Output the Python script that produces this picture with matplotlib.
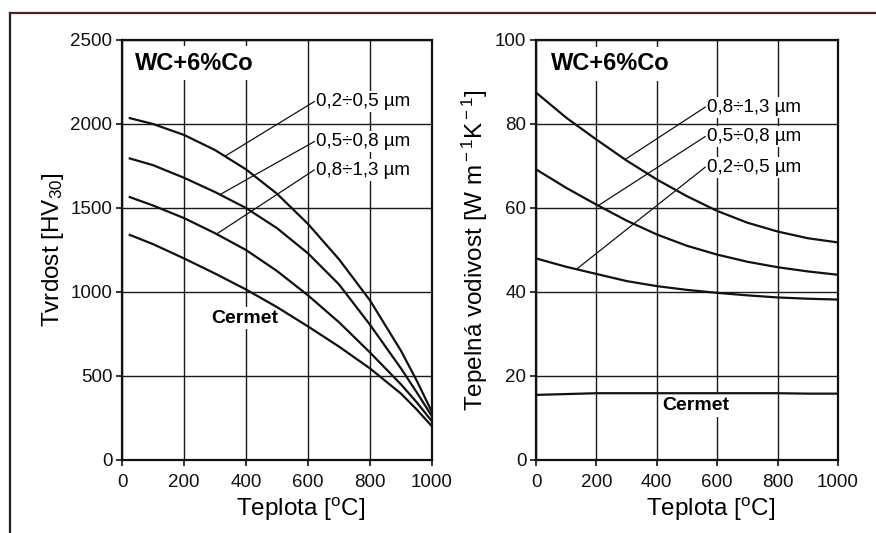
import numpy as np
import matplotlib
matplotlib.use("Agg")
import matplotlib.pyplot as plt
from matplotlib.lines import Line2D

plt.rcParams["font.family"] = ["Liberation Sans", "DejaVu Sans"]
plt.rcParams["mathtext.fontset"] = "custom"
plt.rcParams["mathtext.rm"] = "Liberation Sans"
plt.rcParams["mathtext.it"] = "Liberation Sans:italic"

# --- hardness, WC+6%Co (left) ---
hv_temp = [25, 100, 200, 300, 400, 500, 600, 700, 800, 900, 950, 1000]
hv_02_05 = [2035, 2000, 1935, 1845, 1730, 1585, 1405, 1195, 950, 650, 475, 285]
hv_05_08 = [1795, 1755, 1680, 1595, 1500, 1380, 1230, 1045, 805, 545, 405, 260]
hv_08_13 = [1565, 1515, 1440, 1350, 1250, 1125, 980, 820, 640, 450, 345, 230]
hv_cermet = [1340, 1285, 1200, 1110, 1015, 910, 795, 675, 545, 395, 302, 200]

# --- thermal conductivity, WC+6%Co (right) ---
tc_temp = [0, 100, 200, 300, 400, 500, 600, 700, 800, 900, 1000]
tc_08_13 = [87.5, 81.5, 76.3, 71.3, 66.8, 62.8, 59.3, 56.5, 54.4, 52.8, 51.8]
tc_05_08 = [69.2, 64.8, 60.8, 57.0, 53.7, 51.0, 48.9, 47.2, 45.9, 44.9, 44.1]
tc_02_05 = [48.0, 46.0, 44.3, 42.6, 41.4, 40.5, 39.8, 39.2, 38.7, 38.4, 38.2]
tc_cermet = [15.5, 15.7, 15.9, 15.9, 15.9, 15.9, 15.9, 15.9, 15.9, 15.8, 15.8]

grain_labels = ["0,2÷0,5 µm", "0,5÷0,8 µm", "0,8÷1,3 µm"]

fig = plt.figure(figsize=(8.76, 5.33), dpi=100)

# scan frame
fig.add_artist(Line2D([10 / 876, 10 / 876], [0, 1 - 13 / 533], color="#222222", lw=1.6))
fig.add_artist(Line2D([10 / 876, 1], [1 - 13 / 533, 1 - 13 / 533], color="#4a2626", lw=1.6))

ax1 = fig.add_axes([122 / 876, 73 / 533, 310 / 876, 420 / 533])
ax2 = fig.add_axes([536 / 876, 73 / 533, 302 / 876, 420 / 533])


def style_axes(ax, ymax, ystep):
    ax.set_xlim(0, 1000)
    ax.set_ylim(0, ymax)
    ax.set_xticks(np.arange(0, 1001, 200))
    ax.set_yticks(np.arange(0, ymax + 1, ystep))
    ax.grid(True, color="#1a1a1a", lw=1.0, zorder=1)
    ax.set_axisbelow(True)
    for s in ax.spines.values():
        s.set_linewidth(1.6)
        s.set_color("#111111")
    ax.tick_params(direction="out", length=4, width=1.2, labelsize=13.5,
                   colors="#111111", pad=3)
    ax.tick_params(axis="x", pad=6)
    ax.set_xlabel("Teplota [$^{\\rm o}$C]", fontsize=17.5)
    ax.xaxis.set_label_coords(0.577, -0.085, transform=ax.transAxes)
    ax.xaxis.label.set_va("top")


def label(ax, text, xy_text, xy_curve, size=13.5, weight="normal"):
    ax.plot([xy_text[0], xy_curve[0]], [xy_text[1], xy_curve[1]],
            color="#111111", lw=0.9, zorder=4)
    ax.text(xy_text[0] + 5, xy_text[1], text, fontsize=size, weight=weight,
            ha="left", va="center", zorder=3,
            bbox=dict(facecolor="white", edgecolor="none", pad=1.5))


# left panel
style_axes(ax1, 2500, 500)
for ys in [hv_02_05, hv_05_08, hv_08_13, hv_cermet]:
    ax1.plot(hv_temp, ys, color="#111111", lw=1.6, zorder=5)
ax1.set_ylabel("Tvrdost [HV$_{30}$]", fontsize=17.5)
ax1.yaxis.set_label_coords(-0.182, 0.5)
ax1.text(42, 2363, "WC+6%Co", fontsize=17, weight="bold", ha="left", va="center",
         zorder=3, bbox=dict(facecolor="white", edgecolor="none", pad=4))
ax1.text(395, 845, "Cermet", fontsize=14, weight="bold", ha="center", va="center",
         zorder=3, bbox=dict(facecolor="white", edgecolor="none", pad=2))
hv_series = [hv_02_05, hv_05_08, hv_08_13]
hv_text_y = [2133, 1895, 1726]
hv_leader_x = [332, 316, 305]
for txt, ty, lx, ys in zip(grain_labels, hv_text_y, hv_leader_x, hv_series):
    label(ax1, txt, (620, ty), (lx, np.interp(lx, hv_temp, ys)))

# right panel
style_axes(ax2, 100, 20)
for ys in [tc_08_13, tc_05_08, tc_02_05, tc_cermet]:
    ax2.plot(tc_temp, ys, color="#111111", lw=1.6, zorder=5)
ax2.set_ylabel("Tepelná vodivost [W m$^{\\rm -1}$K$^{\\rm -1}$]", fontsize=17.5)
ax2.yaxis.set_label_coords(-0.152, 0.5)
ax2.text(50, 94.3, "WC+6%Co", fontsize=17, weight="bold", ha="left", va="center",
         zorder=3, bbox=dict(facecolor="white", edgecolor="none", pad=4))
ax2.text(530, 13.0, "Cermet", fontsize=14, weight="bold", ha="center", va="center",
         zorder=3, bbox=dict(facecolor="white", edgecolor="none", pad=2))
tc_series = [tc_08_13, tc_05_08, tc_02_05]
tc_text_y = [84.0, 77.0, 69.7]
tc_leader_x = [295, 206, 134]
for txt, ty, lx, ys in zip(grain_labels[::-1], tc_text_y, tc_leader_x, tc_series):
    label(ax2, txt, (560, ty), (lx, np.interp(lx, tc_temp, ys)))

fig.savefig("out.png", dpi=100, facecolor="white")
